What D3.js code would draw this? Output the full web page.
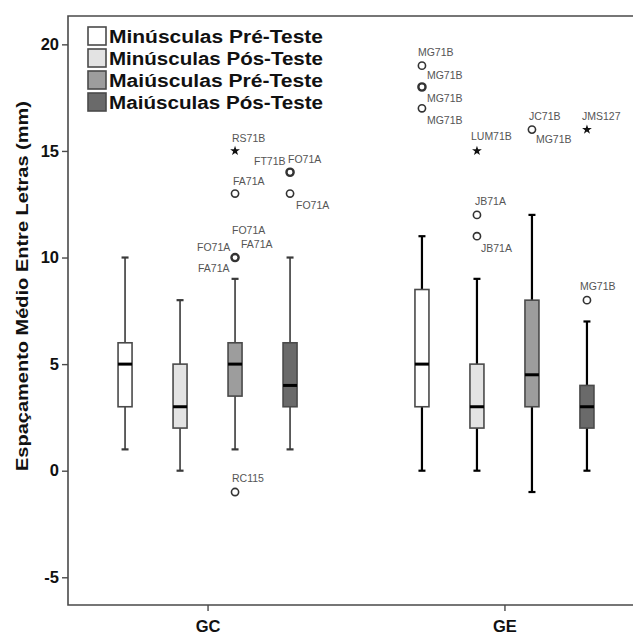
<!DOCTYPE html>
<html>
<head>
<meta charset="utf-8">
<script src="https://cdn.jsdelivr.net/npm/d3@7"></script>
<style>
  body { margin: 0; background: #fff; }
  svg { display: block; font-family: "Liberation Sans", Arial, sans-serif; }
</style>
</head>
<body>
<script>
// dados (espaçamento em mm)
var groups = ["GC", "GE"];
var series = ["Minúsculas Pré-Teste", "Minúsculas Pós-Teste", "Maiúsculas Pré-Teste", "Maiúsculas Pós-Teste"];
var whiskerLow  = [[1, 0, 1, 1], [0, 0, -1, 0]];
var q1          = [[3, 2, 3.5, 3], [3, 2, 3, 2]];
var medians     = [[5, 3, 5, 4], [5, 3, 4.5, 3]];
var q3          = [[6, 5, 6, 6], [8.5, 5, 8, 4]];
var whiskerHigh = [[10, 8, 9, 10], [11, 9, 12, 7]];
var yTicks = [-5, 0, 5, 10, 15, 20];

// outliers: grupo, série, valor, tipo ("o" = circulo, "*" = extremo)
var outGroup  = ["GC", "GC", "GC", "GC", "GC", "GC", "GE", "GE", "GE", "GE", "GE", "GE", "GE", "GE", "GE"];
var outSeries = [2, 2, 2, 2, 3, 3, 0, 0, 0, 1, 1, 1, 2, 3, 3];
var outValue  = [15, 13, 10, -1, 14, 13, 19, 18, 17, 15, 12, 11, 16, 16, 8];
var outKind   = ["*", "o", "o", "o", "o", "o", "o", "o", "o", "*", "o", "o", "o", "*", "o"];
var outLabels = [
  ["RS71B"], ["FA71A"], ["FO71A", "FO71A", "FA71A", "FA71A"], ["RC115"],
  ["FT71B", "FO71A"], ["FO71A"],
  ["MG71B", "MG71B"], ["MG71B"], ["MG71B"],
  ["LUM71B"], ["JB71A"], ["JB71A"], ["JC71B", "MG71B"], ["JMS127"], ["MG71B"]
];

// layout
var fills = ["#ffffff", "#e3e3e3", "#9d9d9d", "#6a6a6a"];
var labelOffsets = [
  [[-3, -13]], [[-2, -12]], [[-3, -27], [-38, -10], [6, -13], [-37, 11]], [[-3, -14]],
  [[-36, -11], [-2, -13]], [[6, 12]],
  [[-4, -13], [5, 10]], [[5, 11]], [[5, 12]],
  [[-6, -15]], [[-2, -14]], [[4, 12]], [[-3, -13], [4, 10]], [[-5, -13]], [[-7, -14]]
];

var W = 633, H = 637;
var plotLeft = 68, plotTop = 16, plotBottom = 605;

var svg = d3.select("body").append("svg").attr("width", W).attr("height", H);

var y = d3.scaleLinear().domain([-6.3, 21.33]).range([plotBottom, plotTop]);
var x = d3.scalePoint().domain(groups).range([plotLeft, 644]).padding(0.47);
var xs = d3.scaleBand().domain(d3.range(series.length)).range([-110, 110]);
var boxW = 14;

function cx(g, s) { return x(g) + xs(s) + xs.bandwidth() / 2; }

// moldura
svg.append("path")
    .attr("d", "M" + W + "," + plotTop + "H" + plotLeft + "V" + plotBottom + "H" + W)
    .attr("fill", "none").attr("stroke", "#4a4a4a").attr("stroke-width", 1.6);

// eixo y
var yAxis = svg.append("g").attr("transform", "translate(" + plotLeft + ",0)")
    .call(d3.axisLeft(y).tickValues(yTicks).tickSize(6).tickPadding(3)
      .tickFormat(function(d) { return String(d); }));
yAxis.select(".domain").remove();
yAxis.selectAll("line").attr("stroke", "#4a4a4a").attr("stroke-width", 1.4);
yAxis.selectAll("text").attr("font-size", 16.5).attr("font-weight", "bold")
    .attr("fill", "#111").attr("font-family", "Liberation Sans, Arial, sans-serif");

// eixo x
var xAxis = svg.append("g").attr("transform", "translate(0," + plotBottom + ")")
    .call(d3.axisBottom(x).tickSize(6).tickPadding(9));
xAxis.select(".domain").remove();
xAxis.selectAll("line").attr("stroke", "#4a4a4a").attr("stroke-width", 1.4);
xAxis.selectAll("text").attr("font-size", 16.5).attr("font-weight", "bold")
    .attr("fill", "#111").attr("font-family", "Liberation Sans, Arial, sans-serif");

svg.append("text")
    .attr("transform", "translate(28,286) rotate(-90)")
    .attr("text-anchor", "middle")
    .attr("font-size", 17).attr("font-weight", "bold").attr("fill", "#111")
    .attr("textLength", 370).attr("lengthAdjust", "spacingAndGlyphs")
    .text("Espaçamento Médio Entre Letras (mm)");

// caixas
groups.forEach(function(g, gi) {
  var wStroke = gi === 0 ? "#3a3a3a" : "#000";
  var wWidth = gi === 0 ? 1.6 : 2.2;
  series.forEach(function(s, si) {
    var c = cx(g, si);
    var bg = svg.append("g");
    bg.append("line").attr("x1", c).attr("x2", c)
        .attr("y1", y(whiskerLow[gi][si])).attr("y2", y(whiskerHigh[gi][si]))
        .attr("stroke", wStroke).attr("stroke-width", wWidth);
    [whiskerLow[gi][si], whiskerHigh[gi][si]].forEach(function(v) {
      bg.append("line").attr("x1", c - 3.5).attr("x2", c + 3.5)
          .attr("y1", y(v)).attr("y2", y(v))
          .attr("stroke", wStroke).attr("stroke-width", 2.2);
    });
    bg.append("rect")
        .attr("x", c - boxW / 2).attr("width", boxW)
        .attr("y", y(q3[gi][si])).attr("height", y(q1[gi][si]) - y(q3[gi][si]))
        .attr("fill", fills[si]).attr("stroke", "#4a4a4a").attr("stroke-width", 1.6);
    bg.append("line").attr("x1", c - boxW / 2).attr("x2", c + boxW / 2)
        .attr("y1", y(medians[gi][si])).attr("y2", y(medians[gi][si]))
        .attr("stroke", "#000").attr("stroke-width", 3);
  });
});

// outliers
var star = d3.symbol().type(d3.symbolStar).size(30);
outValue.forEach(function(v, i) {
  var px = cx(outGroup[i], outSeries[i]), py = y(v);
  if (outKind[i] === "*") {
    svg.append("path").attr("d", star).attr("transform", "translate(" + px + "," + py + ")")
        .attr("fill", "#111");
  } else {
    var bold = (outGroup[i] === "GC" && outLabels[i].length > 1) || (outGroup[i] === "GE" && v === 18);
    svg.append("circle").attr("cx", px).attr("cy", py).attr("r", 3.6)
        .attr("fill", "none").attr("stroke", "#333")
        .attr("stroke-width", bold ? 2.4 : 1.6);
  }
  outLabels[i].forEach(function(t, k) {
    svg.append("text")
        .attr("x", px + labelOffsets[i][k][0]).attr("y", py + labelOffsets[i][k][1])
        .attr("dy", "0.35em")
        .attr("font-size", 10.5).attr("fill", "#555")
        .text(t);
  });
});

// legenda
var leg = svg.append("g").attr("transform", "translate(88,27)");
series.forEach(function(s, i) {
  var row = leg.append("g").attr("transform", "translate(0," + (i * 22) + ")");
  row.append("rect").attr("width", 18).attr("height", 18)
      .attr("fill", fills[i]).attr("stroke", "#4a4a4a").attr("stroke-width", 1.6);
  row.append("text").attr("x", 21).attr("y", 9.5).attr("dy", "0.35em")
      .attr("font-size", 17.5).attr("font-weight", "bold").attr("fill", "#111")
      .attr("textLength", s.length * 10.7).attr("lengthAdjust", "spacingAndGlyphs")
      .text(s);
});
</script>
</body>
</html>
